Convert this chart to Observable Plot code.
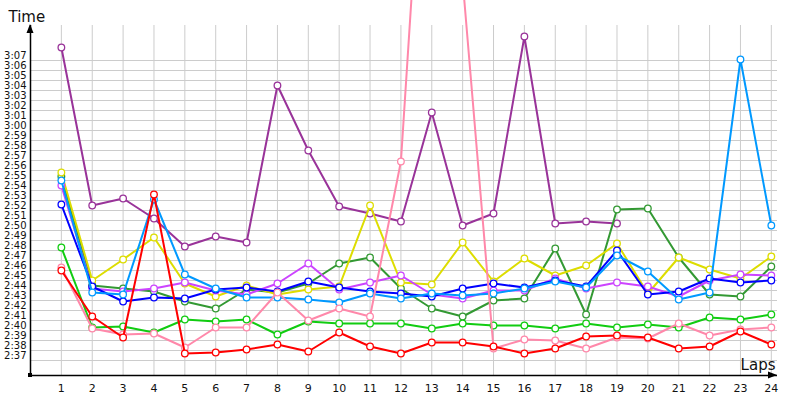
<!DOCTYPE html>
<html>
<head>
<meta charset="utf-8">
<script src="https://cdn.jsdelivr.net/npm/d3@7"></script>
<script src="https://cdn.jsdelivr.net/npm/@observablehq/plot@0.6"></script>
<style>
  body { margin: 0; background: #fff; }
  #chart svg { display: block; }
</style>
</head>
<body>
<div id="chart"></div>
<script>
// Lap numbers (x categories)
const laps = [1,2,3,4,5,6,7,8,9,10,11,12,13,14,15,16,17,18,19,20,21,22,23,24];
// Y tick values in seconds (2:37 .. 3:07)
const timeTicks = [157,158,159,160,161,162,163,164,165,166,167,168,169,170,171,172,173,174,175,176,177,178,179,180,181,182,183,184,185,186,187];

// Lap times in seconds, one array per driver
const purple     = [188.3,172.5,173.2,171.2,168.4,169.4,168.8,184.5,178.0,172.4,171.7,170.9,181.8,170.5,171.7,189.4,170.7,170.9,170.7];
const darkGreen  = [175.4,164.5,164.2,163.9,162.9,162.2,164.1,163.8,164.7,166.7,167.3,164.2,162.2,161.4,163.0,163.2,168.2,161.6,172.1,172.2,167.3,163.6,163.4,166.4];
const yellow     = [175.8,165.0,167.1,169.3,164.7,163.4,164.5,163.6,164.1,164.4,172.5,164.8,164.6,168.8,164.9,167.2,165.5,166.5,168.7,163.7,167.3,166.1,165.2,167.4];
const magenta    = [174.5,164.2,163.9,164.2,164.8,164.0,163.6,164.7,166.7,164.1,164.8,165.5,163.6,163.2,164.0,164.0,165.2,164.2,164.8,164.4,163.4,165.0,165.6,165.5];
const blue       = [172.6,164.4,162.9,163.3,163.2,164.1,164.3,163.9,164.9,164.3,163.9,163.7,163.4,164.2,164.7,164.3,165.0,164.4,168.0,163.6,163.9,165.2,164.8,165.0];
const lightBlue  = [175.0,163.8,163.6,173.1,165.6,164.2,163.3,163.3,163.1,162.8,163.7,163.2,163.7,163.5,163.7,164.2,164.9,164.3,167.5,165.9,163.1,163.8,187.1,170.5];
const brightGreen= [168.3,160.3,160.4,159.8,161.1,160.9,161.1,159.6,160.9,160.7,160.7,160.7,160.2,160.7,160.5,160.5,160.2,160.7,160.3,160.6,160.3,161.3,161.1,161.6];
const pink       = [166.3,160.2,159.6,159.7,158.3,160.3,160.3,163.8,161.0,162.2,161.4,176.9,224.6,195.0,158.2,159.1,159.0,158.2,159.3,159.2,160.7,159.5,160.1,160.3];
const red        = [166.0,161.4,159.3,173.6,157.7,157.8,158.1,158.6,157.9,159.8,158.4,157.7,158.8,158.8,158.4,157.7,158.2,159.4,159.5,159.3,158.2,158.4,159.9,158.6];

const seriesNames  = ["purple","darkGreen","yellow","magenta","blue","lightBlue","brightGreen","pink","red"];
const seriesValues = [purple, darkGreen, yellow, magenta, blue, lightBlue, brightGreen, pink, red];
const seriesColors = ["#993399","#339933","#dddd00","#cc44ff","#0000ff","#0099ff","#11cc11","#ff88aa","#ff0000"];

const rows = [];
seriesNames.forEach((name, i) => {
  seriesValues[i].forEach((v, j) => rows.push({series: name, lap: laps[j], time: v}));
});

const fmt = (s) => `${Math.floor(s / 60)}:${String(s % 60).padStart(2, "0")}`;

const X_MAX = 24.2, Y_MIN = 155.5, Y_MAX = 190.5;

// axis arrowheads and origin square, placed through the plot's scales
function axisDecor(index, {x, y}) {
  const ns = "http://www.w3.org/2000/svg";
  const g = document.createElementNS(ns, "g");
  const x0 = x(0), y0 = y(Y_MIN), yTop = y(Y_MAX), xEnd = x(X_MAX);
  const up = document.createElementNS(ns, "path");
  up.setAttribute("d", `M${x0},${yTop - 1}L${x0 - 3.5},${yTop + 8}L${x0 + 3.5},${yTop + 8}Z`);
  up.setAttribute("fill", "#000");
  g.appendChild(up);
  const right = document.createElementNS(ns, "path");
  right.setAttribute("d", `M${xEnd},${y0}L${xEnd - 9},${y0 - 3.5}L${xEnd - 9},${y0 + 3.5}Z`);
  right.setAttribute("fill", "#000");
  g.appendChild(right);
  const sq = document.createElementNS(ns, "rect");
  sq.setAttribute("x", x0 - 2); sq.setAttribute("y", y0 - 2);
  sq.setAttribute("width", 4); sq.setAttribute("height", 4);
  sq.setAttribute("fill", "#000");
  g.appendChild(sq);
  return g;
}

const seriesMarks = [];
seriesNames.forEach((name, i) => {
  const data = rows.filter(d => d.series === name);
  seriesMarks.push(Plot.line(data, {x: "lap", y: "time", stroke: seriesColors[i], strokeWidth: 2}));
  seriesMarks.push(Plot.dot(data, {x: "lap", y: "time", r: 3.3, fill: "white", stroke: seriesColors[i], strokeWidth: 1.3}));
});

const chart = Plot.plot({
  width: 800,
  height: 400,
  marginLeft: 30,
  marginRight: 23,
  marginTop: 25,
  marginBottom: 25,
  style: {fontFamily: "DejaVu Sans, sans-serif", background: "white", overflow: "hidden"},
  x: {domain: [0, X_MAX], axis: null},
  y: {domain: [Y_MIN, Y_MAX], axis: null},
  marks: [
    Plot.ruleY(timeTicks, {stroke: "#cccccc", strokeWidth: 1}),
    Plot.ruleX(laps, {stroke: "#cccccc", strokeWidth: 1}),
    Plot.axisY(timeTicks, {tickFormat: fmt, tickSize: 0, tickPadding: 4, dy: -5, fontSize: 10, fill: "#111", label: null}),
    Plot.axisX(laps, {tickSize: 0, tickPadding: 9, fontSize: 11, fill: "#111", label: null}),
    ...seriesMarks,
    Plot.ruleX([0], {stroke: "#000", strokeWidth: 1.5}),
    Plot.ruleY([Y_MIN], {stroke: "#000", strokeWidth: 1.5}),
    axisDecor,
    Plot.text(["Time"], {frameAnchor: "top-left", text: d => d, dx: -22, dy: -4, textAnchor: "start", lineAnchor: "bottom", fontSize: 15, fill: "#111"}),
    Plot.text(["Laps"], {frameAnchor: "bottom-right", text: d => d, dx: -2, dy: -6, textAnchor: "end", lineAnchor: "bottom", fontSize: 15, fill: "#111"})
  ]
});

document.getElementById("chart").appendChild(chart);
</script>
</body>
</html>
